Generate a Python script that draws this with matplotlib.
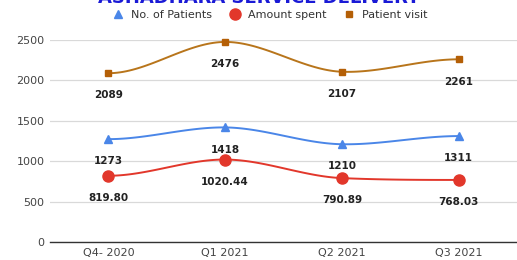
import numpy as np
import matplotlib
matplotlib.use("Agg")
import matplotlib.pyplot as plt
from matplotlib.lines import Line2D

categories = ["Q4- 2020", "Q1 2021", "Q2 2021", "Q3 2021"]
patients = [1273, 1418, 1210, 1311]
amount = [819.80, 1020.44, 790.89, 768.03]
visits = [2089, 2476, 2107, 2261]
amount_labels = ["819.80", "1020.44", "790.89", "768.03"]
title = "ASHADHARA SERVICE DELIVERY"

c_blue = "#4a86e8"
c_red = "#e2372b"
c_brown = "#b45f06"
c_brown_line = "#b8751b"


def smooth(x, y, n=40, tension=0.5):
    x = np.asarray(x, float); y = np.asarray(y, float)
    m = len(x)
    t = np.zeros(m)
    for i in range(1, m - 1):
        t[i] = tension * (y[i + 1] - y[i - 1]) / (x[i + 1] - x[i - 1])
    xs, ys = [], []
    for i in range(m - 1):
        h = x[i + 1] - x[i]
        s = np.linspace(0, 1, n)
        h00 = 2 * s**3 - 3 * s**2 + 1
        h10 = s**3 - 2 * s**2 + s
        h01 = -2 * s**3 + 3 * s**2
        h11 = s**3 - s**2
        xs.append(x[i] + s * h)
        ys.append(h00 * y[i] + h10 * h * t[i] + h01 * y[i + 1] + h11 * h * t[i + 1])
    return np.concatenate(xs), np.concatenate(ys)


fig = plt.figure(figsize=(5.17, 2.60), dpi=100)
ax = fig.add_axes([50 / 517, 18 / 260, 467 / 517, 202 / 260])
x = np.arange(len(categories))

for vals, col, lcol, mk, ms in [
    (visits, c_brown, c_brown_line, "s", 5),
    (patients, c_blue, c_blue, "^", 6),
    (amount, c_red, c_red, "o", 8),
]:
    sx, sy = smooth(x, vals)
    ax.plot(sx, sy, color=lcol, lw=1.4, clip_on=False, zorder=3)
    ax.plot(x, vals, linestyle="none", marker=mk, color=col, markersize=ms,
            clip_on=False, zorder=4)

for i in x:
    for vals, txt in [(visits, str(visits[i])), (patients, str(patients[i])),
                      (amount, amount_labels[i])]:
        ax.annotate(txt, (i, vals[i]), xytext=(0, -16), textcoords="offset points",
                    ha="center", va="center", fontsize=7.5, fontweight="bold",
                    color="#222222")

ax.set_xlim(-0.5, 3.5)
ax.set_ylim(0, 2500)
ax.set_yticks([0, 500, 1000, 1500, 2000, 2500])
ax.set_xticks(x)
ax.set_xticklabels(categories)
ax.tick_params(axis="both", length=0, labelsize=8, colors="#444444")
ax.tick_params(axis="y", pad=4)
ax.tick_params(axis="x", pad=4)
ax.grid(axis="y", color="#d9d9d9", lw=0.9)
ax.set_axisbelow(True)
for s in ["left", "right", "top"]:
    ax.spines[s].set_visible(False)
ax.spines["bottom"].set_color("#333333")
ax.spines["bottom"].set_linewidth(1.0)

handles = [
    Line2D([], [], linestyle="none", marker="^", color=c_blue, markersize=6),
    Line2D([], [], linestyle="none", marker="o", color=c_red, markersize=8),
    Line2D([], [], linestyle="none", marker="s", color=c_brown, markersize=5),
]
fig.legend(handles, ["No. of Patients", "Amount spent", "Patient visit"],
           loc="center", bbox_to_anchor=(270 / 517, 1 - 15 / 260), ncol=3, frameon=False,
           fontsize=8, handlelength=1.0, handletextpad=0.7, columnspacing=1.5,
           labelcolor="#333333")

fig.text(0.5, 1.0 + 2 / 260, title, ha="center", va="center", fontsize=13,
         fontweight="bold", color="#1a1ad6")

fig.savefig("out.png", dpi=100)
